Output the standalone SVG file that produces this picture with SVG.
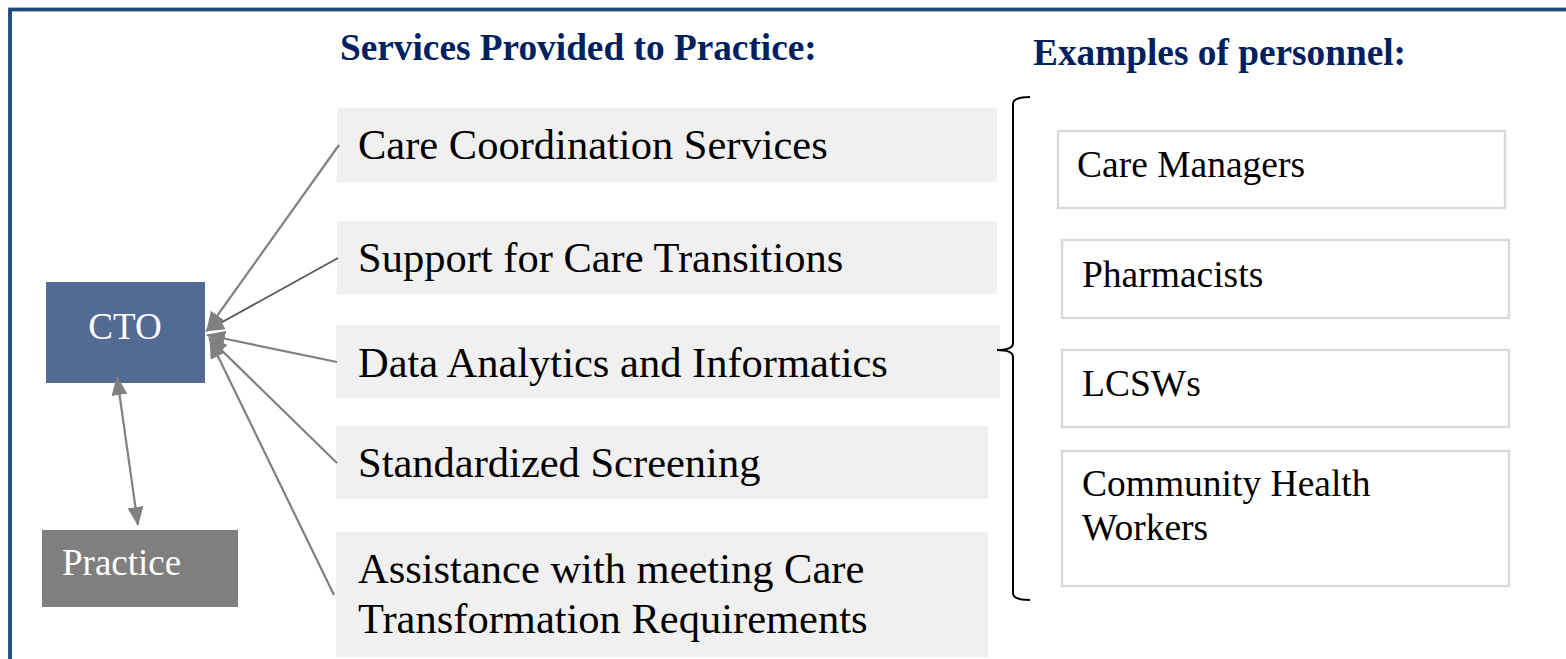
<svg xmlns="http://www.w3.org/2000/svg" width="1566" height="659" viewBox="0 0 1566 659">
<style>
.svc{fill:#f0f0f0}
.svct{font-family:"Liberation Serif","Times New Roman",serif;font-size:42.5px;fill:#000}
.per{fill:#fff;stroke:#d9d9d9;stroke-width:2.5}
.pert{font-family:"Liberation Serif","Times New Roman",serif;font-size:37.5px;fill:#000}
.head{font-family:"Liberation Serif","Times New Roman",serif;font-size:37.3px;font-weight:bold;fill:#002060}
.conn{stroke:#808080;stroke-width:2.2;fill:none}
.wt{font-family:"Liberation Serif","Times New Roman",serif;font-size:37px;fill:#fff}
</style>
<defs>
<marker id="ah" viewBox="0 0 19 16" refX="18" refY="8" markerWidth="19" markerHeight="16" markerUnits="userSpaceOnUse" orient="auto-start-reverse">
<path d="M0,0 L19,8 L0,16 z" fill="#808080"/>
</marker>
</defs>
<rect x="10" y="9.5" width="1600" height="700" fill="#fff" stroke="#1f497d" stroke-width="3.8"/>
<text class="head" x="340" y="60">Services Provided to Practice:</text>
<text class="head" x="1033" y="65">Examples of personnel:</text>
<g id="cto"><rect x="46" y="282" width="159" height="101" fill="#536a92"/><text class="wt" x="125" y="339" text-anchor="middle">CTO</text></g>
<g id="practice"><rect x="42" y="530" width="196" height="77" fill="#7f7f7f"/><text class="wt" x="62" y="575">Practice</text></g>
<g id="svc1"><rect class="svc" x="337" y="108" width="660" height="74"/><text class="svct" x="358" y="159">Care Coordination Services</text></g>
<g id="svc2"><rect class="svc" x="337" y="221" width="660" height="73"/><text class="svct" x="358" y="272">Support for Care Transitions</text></g>
<g id="svc3"><rect class="svc" x="336" y="325" width="664" height="73"/><text class="svct" x="358" y="377">Data Analytics and Informatics</text></g>
<g id="svc4"><rect class="svc" x="336" y="426" width="652" height="73"/><text class="svct" x="358" y="477">Standardized Screening</text></g>
<g id="svc5"><rect class="svc" x="336" y="532" width="652" height="125"/><text class="svct" x="358" y="583">Assistance with meeting Care</text><text class="svct" x="358" y="633">Transformation Requirements</text></g>
<g id="brace"><path d="M1030,97 Q1013,97 1013,104 L1013,343 Q1013,350 997,350 Q1013,350 1013,357 L1013,593 Q1013,600 1030,600" fill="none" stroke="#000" stroke-width="2"/></g>
<g id="per1"><rect class="per" x="1058" y="131" width="447" height="77"/><text class="pert" x="1077" y="177">Care Managers</text></g>
<g id="per2"><rect class="per" x="1062" y="240" width="447" height="78"/><text class="pert" x="1082" y="287">Pharmacists</text></g>
<g id="per3"><rect class="per" x="1062" y="350" width="447" height="77"/><text class="pert" x="1082" y="396">LCSWs</text></g>
<g id="per4"><rect class="per" x="1062" y="451" width="447" height="135"/><text class="pert" x="1082" y="496">Community Health</text><text class="pert" x="1082" y="540">Workers</text></g>
<g id="connectors">
<line class="conn" x1="339" y1="145" x2="207" y2="330" marker-end="url(#ah)"/>
<line class="conn" x1="338" y1="258" x2="206" y2="331" marker-end="url(#ah)" style="stroke:#595959;stroke-width:1.8"/>
<line class="conn" x1="337" y1="362" x2="207" y2="335" marker-end="url(#ah)"/>
<line class="conn" x1="337" y1="463" x2="209" y2="338" marker-end="url(#ah)"/>
<line class="conn" x1="334" y1="595" x2="210" y2="340" marker-end="url(#ah)"/>
<line class="conn" x1="117" y1="377" x2="138" y2="525" marker-start="url(#ah)" marker-end="url(#ah)"/>
</g>
</svg>
